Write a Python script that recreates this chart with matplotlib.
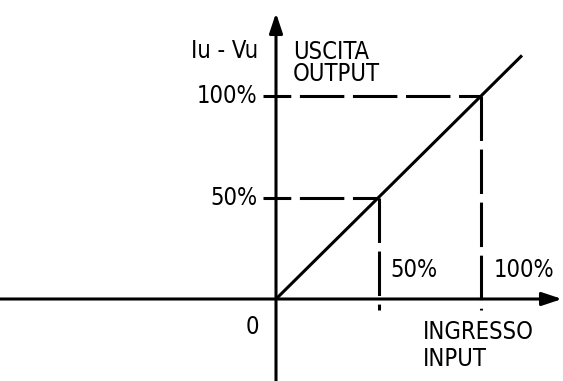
import matplotlib
matplotlib.use("Agg")
import matplotlib.pyplot as plt
from matplotlib import font_manager as fm

# Data (percent of full scale)
input_pct = [0, 50, 100, 120]
output_pct = [0, 50, 100, 120]
ref_levels = [50, 100]
ref_labels = ["50%", "100%"]
y_title = "Iu - Vu"
y_names = ["USCITA", "OUTPUT"]
x_names = ["INGRESSO", "INPUT"]
origin_label = "0"

# pick a narrow font if available
fam, stretch, fs = 'Liberation Sans', 'normal', 15
names = {(f.name, str(f.stretch)) for f in fm.fontManager.ttflist}
if any(n == 'Liberation Sans Narrow' for n, s in names):
    fam, stretch, fs = 'Liberation Sans Narrow', 'normal', 18
elif any(n == 'DejaVu Sans' and ('condensed' in s) for n, s in names):
    fam, stretch, fs = 'DejaVu Sans', 'condensed', 17
elif any('Condensed' in n or 'Narrow' in n for n, s in names):
    fam = sorted(n for n, s in names if 'Condensed' in n or 'Narrow' in n)[0]
    fs = 17
plt.rcParams['font.family'] = [fam, 'DejaVu Sans']
plt.rcParams['font.stretch'] = stretch
plt.rcParams['lines.scale_dashes'] = False

W, H = 563, 381
fig = plt.figure(figsize=(W / 100, H / 100), dpi=100)
ax = fig.add_axes([0, 0, 1, 1])
ax.set_axis_off()

sx, sy = 2.05, 2.03          # pixels per percent
ox, oy = 276, 299            # origin in pixels (from top-left)
ax.set_xlim(-ox / sx, (W - ox) / sx)
ax.set_ylim(-(H - oy) / sy, oy / sy)

lw = 2.2
arrow = dict(arrowstyle='-|>,head_length=1.2,head_width=0.4', lw=lw,
             color='black', shrinkA=0, shrinkB=0, mutation_scale=10)
# axes with arrows
ax.annotate('', xy=((W - 1 - ox) / sx, 0), xytext=(-ox / sx, 0), arrowprops=arrow)
ax.annotate('', xy=(0, (oy - 13) / sy), xytext=(0, -(H - oy) / sy), arrowprops=arrow)

# transfer characteristic
ax.plot(input_pct, output_pct, color='black', lw=lw, solid_capstyle='butt')

# dashed reference lines
for v in ref_levels:
    ax.plot([-6.3, v], [v, v], color='black', lw=lw, linestyle=(12, (32, 6.2)))
    ax.plot([v, v], [v, -5.4], color='black', lw=lw, linestyle=(0, (32, 6.2)))

kw = dict(fontsize=fs, va='center')
# y tick labels
for v, lab in zip(ref_levels, ref_labels):
    ax.text(-9, v, lab, ha='right', **kw)
# x tick labels
for v, lab in zip(ref_levels, ref_labels):
    ax.text(v + 6, (oy - 270) / sy, lab, ha='left', **kw)

ax.text(-8.3, (oy - 327) / sy, origin_label, ha='right', **kw)
ax.text(-8.8, (oy - 51) / sy, y_title, ha='right', **kw)
ax.text(8.3, (oy - 52) / sy, y_names[0], ha='left', **kw)
ax.text(8.3, (oy - 74) / sy, y_names[1], ha='left', **kw)
ax.text((423 - ox) / sx, (oy - 332) / sy, x_names[0], ha='left', **kw)
ax.text((423 - ox) / sx, (oy - 359) / sy, x_names[1], ha='left', **kw)

fig.savefig("out.png", dpi=100)
